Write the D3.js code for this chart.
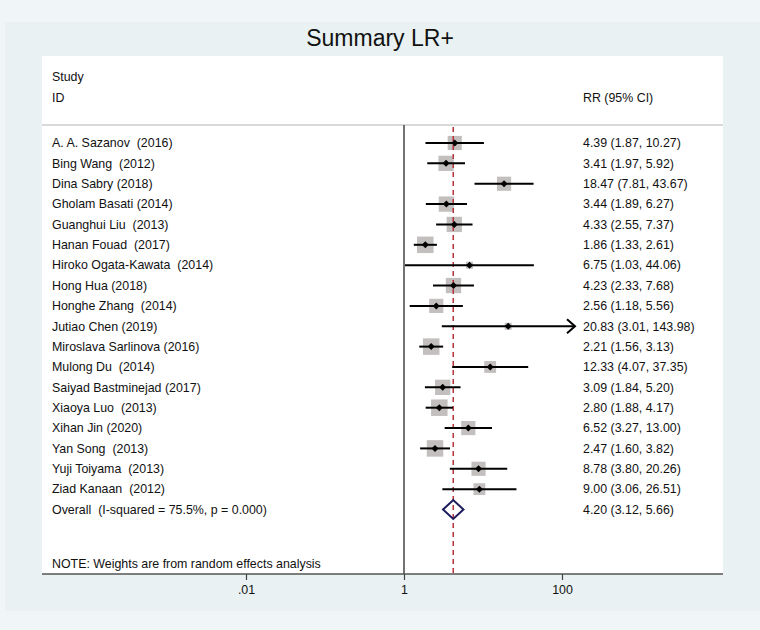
<!DOCTYPE html>
<html>
<head>
<meta charset="utf-8">
<script src="https://cdn.jsdelivr.net/npm/d3@7"></script>
<style>
  body { margin: 0; background: #f0f6f7; }
  svg text { font-family: "Liberation Sans", Arial, sans-serif; white-space: pre; }
</style>
</head>
<body>
<div id="chart"></div>
<script>
const studies = [
  "A. A. Sazanov  (2016)", "Bing Wang  (2012)", "Dina Sabry (2018)", "Gholam Basati (2014)",
  "Guanghui Liu  (2013)", "Hanan Fouad  (2017)", "Hiroko Ogata-Kawata  (2014)", "Hong Hua (2018)",
  "Honghe Zhang  (2014)", "Jutiao Chen (2019)", "Miroslava Sarlinova (2016)", "Mulong Du  (2014)",
  "Saiyad Bastminejad (2017)", "Xiaoya Luo  (2013)", "Xihan Jin (2020)", "Yan Song  (2013)",
  "Yuji Toiyama  (2013)", "Ziad Kanaan  (2012)"
];
const rr    = [4.39, 3.41, 18.47, 3.44, 4.33, 1.86, 6.75, 4.23, 2.56, 20.83, 2.21, 12.33, 3.09, 2.80, 6.52, 2.47, 8.78, 9.00];
const lower = [1.87, 1.97, 7.81, 1.89, 2.55, 1.33, 1.03, 2.33, 1.18, 3.01, 1.56, 4.07, 1.84, 1.88, 3.27, 1.60, 3.80, 3.06];
const upper = [10.27, 5.92, 43.67, 6.27, 7.37, 2.61, 44.06, 7.68, 5.56, 143.98, 3.13, 37.35, 5.20, 4.17, 13.00, 3.82, 20.26, 26.51];
const weights = [5.3, 6.2, 5.3, 6.2, 6.2, 7.2, 1.3, 6.2, 5.3, 1.3, 7.2, 3.7, 6.2, 7.2, 5.3, 7.2, 5.3, 3.7];
const overall = {label: "Overall  (I-squared = 75.5%, p = 0.000)", rr: 4.20, lower: 3.12, upper: 5.66};
const tickValues = [0.01, 1, 100];
const tickLabels = [".01", "1", "100"];

const W = 760, H = 630;
const panel = {left: 42, right: 723, top: 56, bottom: 574};
const fs = 12.4;

const svg = d3.select("#chart").append("svg")
  .attr("width", W).attr("height", H);

// backgrounds
svg.append("rect").attr("width", W).attr("height", H).attr("fill", "#f0f6f7");
svg.append("rect").attr("x", 5).attr("y", 22).attr("width", W - 5).attr("height", 589).attr("fill", "#e9f1f2");
svg.append("rect").attr("x", panel.left).attr("y", panel.top)
  .attr("width", panel.right - panel.left).attr("height", panel.bottom - panel.top)
  .attr("fill", "#ffffff");

svg.append("text").attr("x", 380).attr("y", 46).attr("text-anchor", "middle")
  .attr("font-size", 23).attr("fill", "#111").text("Summary LR+");

const x = d3.scaleLog().domain([0.01, 100]).range([246, 562]);
const rows = studies.concat([overall.label]);
const y = d3.scalePoint().domain(d3.range(rows.length)).range([143, 509.5]);
const size = d3.scaleSqrt().domain([0, 7.2]).range([0, 16.5]);

// header
const g = svg.append("g").attr("font-size", fs).attr("fill", "#111");
g.append("text").attr("x", 52).attr("y", 81).text("Study");
g.append("text").attr("x", 52).attr("y", 102).text("ID");
g.append("text").attr("x", 583).attr("y", 102).text("RR (95% CI)");

svg.append("line").attr("x1", panel.left).attr("x2", panel.right)
  .attr("y1", 125).attr("y2", 125).attr("stroke", "#d9d9d9").attr("stroke-width", 2);

// null line
svg.append("line").attr("x1", x(1)).attr("x2", x(1)).attr("y1", 125).attr("y2", panel.bottom)
  .attr("stroke", "#444").attr("stroke-width", 1.5);

// squares
const data = studies.map((s, i) => ({s, i, rr: rr[i], lo: lower[i], hi: upper[i], w: weights[i]}));
svg.selectAll(".sq").data(data).enter().append("rect")
  .attr("x", d => x(d.rr) - size(d.w) / 2)
  .attr("y", d => y(d.i) - size(d.w) / 2)
  .attr("width", d => size(d.w)).attr("height", d => size(d.w))
  .attr("fill", "#c4bfbf");

// pooled dashed line
svg.append("line").attr("x1", x(overall.rr)).attr("x2", x(overall.rr))
  .attr("y1", 127).attr("y2", panel.bottom)
  .attr("stroke", "#b5343a").attr("stroke-width", 1.5).attr("stroke-dasharray", "5,4");

// CI lines
const xMax = 575;
svg.selectAll(".ci").data(data).enter().append("line")
  .attr("x1", d => x(d.lo)).attr("x2", d => Math.min(x(d.hi), xMax))
  .attr("y1", d => y(d.i)).attr("y2", d => y(d.i))
  .attr("stroke", "#000").attr("stroke-width", 2);

// arrows for CI beyond range
data.filter(d => x(d.hi) >= xMax - 1).forEach(d => {
  const yy = y(d.i);
  svg.append("path")
    .attr("d", `M${xMax - 8},${yy - 7}L${xMax},${yy}L${xMax - 8},${yy + 7}`)
    .attr("fill", "none").attr("stroke", "#000").attr("stroke-width", 2);
});

// point estimates
svg.selectAll(".pt").data(data).enter().append("path")
  .attr("d", d => { const cx = x(d.rr), cy = y(d.i); return `M${cx - 3.5},${cy}L${cx},${cy - 3.5}L${cx + 3.5},${cy}L${cx},${cy + 3.5}Z`; })
  .attr("fill", "#000");

// overall diamond
const oy = y(studies.length);
svg.append("path")
  .attr("d", `M${x(overall.lower)},${oy}L${x(overall.rr)},${oy - 9.5}L${x(overall.upper)},${oy}L${x(overall.rr)},${oy + 9.5}Z`)
  .attr("fill", "none").attr("stroke", "#1b1b5e").attr("stroke-width", 2);

// labels
const fmt = d3.format(".2f");
g.selectAll(".lab").data(rows).enter().append("text")
  .attr("x", 52).attr("y", (d, i) => y(i) + 4.3).text(d => d);
const stats = data.map(d => `${fmt(d.rr)} (${fmt(d.lo)}, ${fmt(d.hi)})`)
  .concat([`${fmt(overall.rr)} (${fmt(overall.lower)}, ${fmt(overall.upper)})`]);
g.selectAll(".st").data(stats).enter().append("text")
  .attr("x", 583).attr("y", (d, i) => y(i) + 4.3).text(d => d);

g.append("text").attr("x", 52).attr("y", 568).text("NOTE: Weights are from random effects analysis");

// axis
svg.append("line").attr("x1", panel.left).attr("x2", panel.right)
  .attr("y1", panel.bottom).attr("y2", panel.bottom)
  .attr("stroke", "#555").attr("stroke-width", 1.5);
const axis = svg.append("g").attr("transform", `translate(0,${panel.bottom})`)
  .call(d3.axisBottom(x).tickValues(tickValues).tickFormat((d, i) => tickLabels[i]).tickSize(6).tickPadding(5));
axis.select(".domain").remove();
axis.selectAll(".tick line").attr("stroke", "#444").attr("stroke-width", 1.2);
axis.selectAll(".tick text").attr("font-size", fs).attr("fill", "#111")
  .attr("font-family", "Liberation Sans, Arial, sans-serif");
</script>
</body>
</html>
